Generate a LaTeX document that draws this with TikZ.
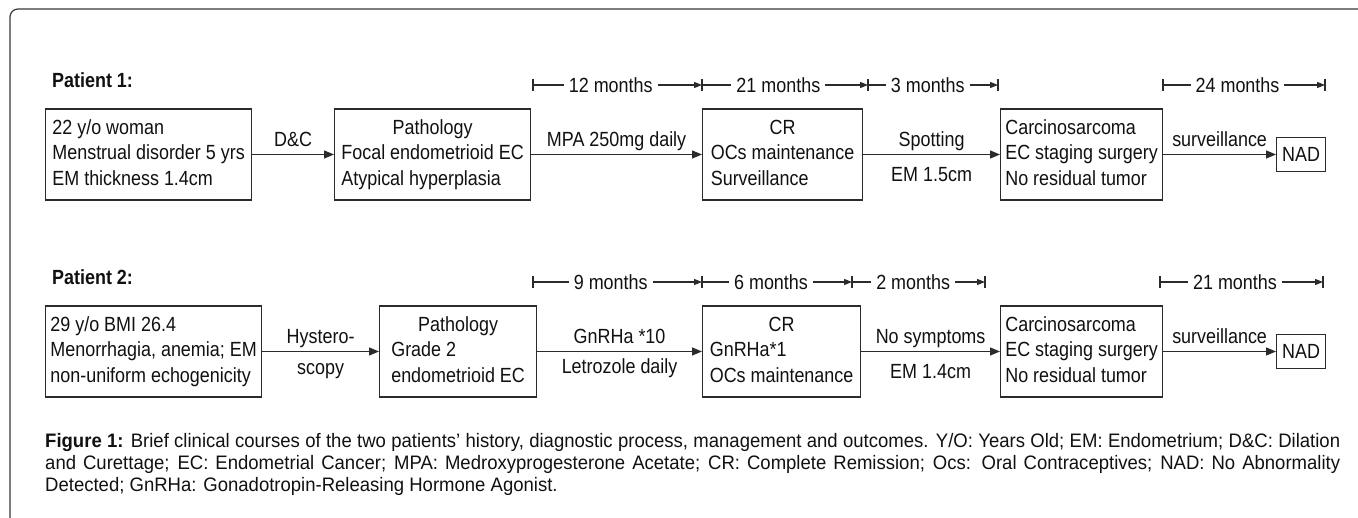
\documentclass[tikz,border=0pt]{standalone}
\usepackage{fontspec}
\setmainfont{Liberation Sans}[FakeStretch=0.875]
\newfontfamily\capfont{Liberation Sans}[FakeStretch=0.95]
\usetikzlibrary{arrows.meta,calc}
\definecolor{linec}{HTML}{2B2B2B}
\definecolor{txt}{HTML}{111111}
\definecolor{framec}{HTML}{3A3A3A}
\begin{document}
\begin{tikzpicture}[x=1pt,y=-1pt,
  every node/.style={font=\fontsize{20.5}{25.5}\selectfont, text=txt},
  box/.style={draw=linec, line width=1.2pt, inner sep=0pt, minimum height=91pt, anchor=west},
  smallbox/.style={draw=linec, line width=1.2pt, inner sep=0pt, minimum height=34pt, minimum width=49pt, anchor=west},
  flow/.style={draw=linec, line width=1.2pt, -{Triangle[length=10pt,width=8pt]}},
  span/.style={draw=linec, line width=1.1pt, -{Triangle[length=8pt,width=6pt]}},
  tick/.style={draw=linec, line width=1.1pt},
  lab/.style={inner sep=0pt, text height=15pt, text depth=4pt},
  spanlab/.style={fill=white, inner sep=5pt, pos=0.46},
  ptlab/.style={anchor=west, inner sep=0pt, font=\fontsize{20.5}{25.5}\selectfont\bfseries}
]
\useasboundingbox (0,0) rectangle (1358,518);
\fill[white] (0,0) rectangle (1358,518);
% outer frame
\draw[framec, line width=1.2pt, rounded corners=8pt] (10,518) -- (10,9) -- (1358,9);

% ---------------- Patient 1 ----------------
\node[ptlab] (pt1) at (52,80) {Patient 1:};

\coordinate (ta1) at (533,85);
\coordinate (tb1) at (702,85);
\coordinate (tc1) at (868,85);
\coordinate (td1) at (998,85);
\coordinate (te1) at (1163,85);
\coordinate (tf1) at (1325,85);
\foreach \c in {ta1,tb1,tc1,td1,te1,tf1}{\draw[tick] ($(\c)+(0,-6)$) -- ($(\c)+(0,6)$);}
\draw[span] (ta1) -- node[spanlab]{12 months} (tb1);
\draw[span] (tb1) -- node[spanlab]{21 months} (tc1);
\draw[span] (tc1) -- node[spanlab]{3 months} (td1);
\draw[span] (te1) -- node[spanlab]{24 months} (tf1);

\node[box, minimum width=206pt] (a1) at (45,154.5) {\begin{tabular}{@{}l@{}}22 y/o woman\\Menstrual disorder 5 yrs\\EM thickness 1.4cm\end{tabular}};
\node[box, minimum width=196pt] (b1) at (334,154.5) {\begin{tabular}{@{}l@{}}\multicolumn{1}{@{}c@{}}{Pathology}\\Focal endometrioid EC\\Atypical hyperplasia\end{tabular}};
\node[box, minimum width=160pt] (c1) at (702,154.5) {\begin{tabular}{@{}l@{}}\multicolumn{1}{@{}c@{}}{CR}\\OCs maintenance\\Surveillance\end{tabular}};
\node[box, minimum width=162pt] (d1) at (1000,154.5) {\begin{tabular}{@{}l@{}}Carcinosarcoma\\EC staging surgery\\No residual tumor\end{tabular}};
\node[smallbox] (e1) at (1276,154.5) {NAD};

\draw[flow] (a1) -- node[lab, above=3pt]{D\&C} (b1);
\draw[flow] (b1) -- node[lab, above=3pt]{MPA 250mg daily} (c1);
\draw[flow] (c1) -- node[lab, above=3pt]{Spotting} node[lab, below=11pt]{EM 1.5cm} (d1);
\draw[flow] (d1) -- node[lab, above=3pt]{surveillance} (e1);

% ---------------- Patient 2 ----------------
\node[ptlab] (pt2) at (52,277) {Patient 2:};

\coordinate (ta2) at (533,282);
\coordinate (tb2) at (702,282);
\coordinate (tc2) at (852,282);
\coordinate (td2) at (985,282);
\coordinate (te2) at (1160,282);
\coordinate (tf2) at (1323,282);
\foreach \c in {ta2,tb2,tc2,td2,te2,tf2}{\draw[tick] ($(\c)+(0,-6)$) -- ($(\c)+(0,6)$);}
\draw[span] (ta2) -- node[spanlab]{9 months} (tb2);
\draw[span] (tb2) -- node[spanlab]{6 months} (tc2);
\draw[span] (tc2) -- node[spanlab]{2 months} (td2);
\draw[span] (te2) -- node[spanlab]{21 months} (tf2);

\node[box, minimum width=216pt] (a2) at (45,351.5) {\begin{tabular}{@{}l@{}}29 y/o BMI 26.4\\Menorrhagia, anemia; EM\\non-uniform echogenicity\end{tabular}};
\node[box, minimum width=157pt] (b2) at (379,351.5) {\begin{tabular}{@{}l@{}}\multicolumn{1}{@{}c@{}}{Pathology}\\Grade 2\\endometrioid EC\end{tabular}};
\node[box, minimum width=158pt] (c2) at (702,351.5) {\begin{tabular}{@{}l@{}}\multicolumn{1}{@{}c@{}}{CR}\\GnRHa*1\\OCs maintenance\end{tabular}};
\node[box, minimum width=162pt] (d2) at (1000,351.5) {\begin{tabular}{@{}l@{}}Carcinosarcoma\\EC staging surgery\\No residual tumor\end{tabular}};
\node[smallbox] (e2) at (1276,351.5) {NAD};

\draw[flow] (a2) -- node[lab, above=3pt]{Hystero-} node[lab, below=7pt]{scopy} (b2);
\draw[flow] (b2) -- node[lab, above=3pt]{GnRHa *10} node[lab, below=6pt]{Letrozole daily} (c2);
\draw[flow] (c2) -- node[lab, above=3pt]{No symptoms} node[lab, below=11pt]{EM 1.4cm} (d2);
\draw[flow] (d2) -- node[lab, above=3pt]{surveillance} (e2);

% ---------------- caption ----------------
\node[anchor=north west, inner sep=0pt, text width=1295pt, align=justify,
      font=\capfont\fontsize{19.5}{22}\selectfont] (cap) at (45,433)
 {\textbf{Figure 1:} Brief clinical courses of the two patients’ history, diagnostic process, management and outcomes. Y/O: Years Old; EM: Endometrium; D\&C: Dilation\linebreak and Curettage; EC: Endometrial Cancer; MPA: Medroxyprogesterone Acetate; CR: Complete Remission; Ocs: Oral Contraceptives; NAD: No Abnormality\linebreak Detected; GnRHa: Gonadotropin-Releasing Hormone Agonist.};
\end{tikzpicture}
\end{document}
